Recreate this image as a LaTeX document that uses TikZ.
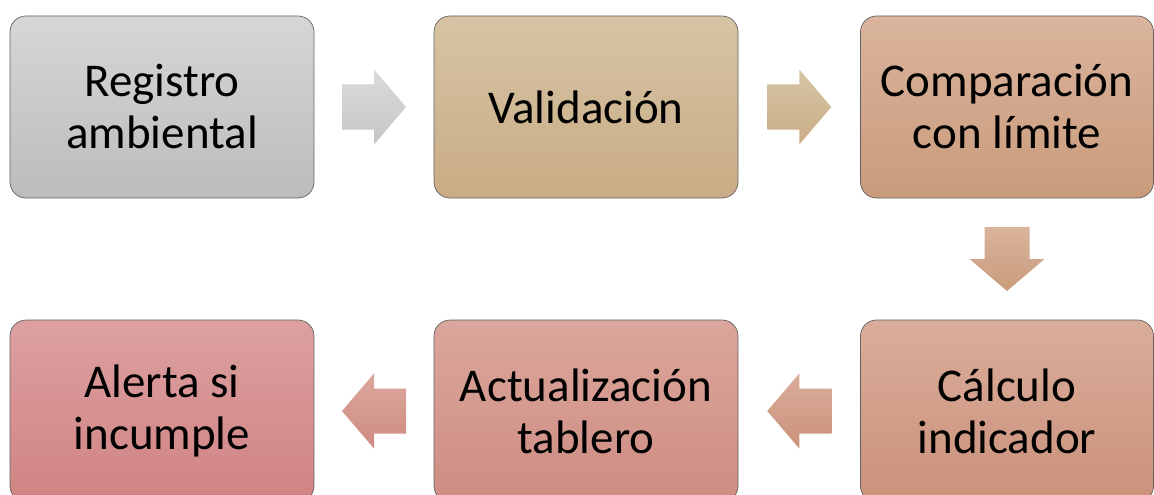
\documentclass[tikz,border=0pt]{standalone}
\usepackage{fontspec}
\setmainfont{Carlito}
\usetikzlibrary{calc}

\definecolor{grayTop}{HTML}{D6D6D6}
\definecolor{grayBot}{HTML}{BCBCBC}
\definecolor{tanTop}{HTML}{D6C4A4}
\definecolor{tanBot}{HTML}{C9AC85}
\definecolor{cmpTop}{HTML}{DAB49D}
\definecolor{cmpBot}{HTML}{C99B7B}
\definecolor{calTop}{HTML}{D9AD9B}
\definecolor{calBot}{HTML}{CB917A}
\definecolor{actTop}{HTML}{DBA69C}
\definecolor{actBot}{HTML}{CE8C82}
\definecolor{alrTop}{HTML}{DDA0A0}
\definecolor{alrBot}{HTML}{D08383}

\begin{document}
\begin{tikzpicture}[x=1pt,y=-1pt,
    flow_box/.style={rectangle,rounded corners=16pt,draw=black!62,line width=0.7pt,minimum width=304pt,minimum height=182pt,inner sep=0pt,align=center,font=\fontsize{47}{52}\selectfont},
    arrow_right/.pic={\path[pic actions] (-32,-22.5) -- (0,-22.5) -- (0,-37.5) -- (32,0) -- (0,37.5) -- (0,22.5) -- (-32,22.5) -- cycle;},
    arrow_down/.pic={\path[pic actions] (-22.5,-32) -- (-22.5,0) -- (-37.5,0) -- (0,32) -- (37.5,0) -- (22.5,0) -- (22.5,-32) -- cycle;}]

    \useasboundingbox[fill=white] (0,0) rectangle (1154,495);

    % upper row
    \node[flow_box,top color=grayTop,bottom color=grayBot] (reg) at (162,107) {Registro\\ambiental};
    \node[flow_box,top color=tanTop,bottom color=tanBot] (val) at (586,107) {Validación};
    \node[flow_box,minimum width=293pt,top color=cmpTop,bottom color=cmpBot] (cmp) at (1007,107) {Comparación\\con límite};
    % lower row
    \node[flow_box,minimum width=293pt,top color=calTop,bottom color=calBot] (cal) at (1007,411) {Cálculo\\indicador};
    \node[flow_box,top color=actTop,bottom color=actBot] (act) at (586,411) {Actualización\\tablero};
    \node[flow_box,top color=alrTop,bottom color=alrBot] (alr) at (162,411) {Alerta si\\incumple};

    \pic[top color=grayTop!90!white,bottom color=grayBot!85!white] at ($(reg.east)!0.5!(val.west)$) {arrow_right};
    \pic[top color=tanTop,bottom color=tanBot] at ($(val.east)!0.5!(cmp.west)$) {arrow_right};
    \pic[top color=cmpTop,bottom color=cmpBot] at ($(cmp.south)!0.5!(cal.north)$) {arrow_down};
    \pic[xscale=-1,top color=calTop,bottom color=calBot] at ($(cal.west)!0.5!(act.east)$) {arrow_right};
    \pic[xscale=-1,top color=actTop,bottom color=actBot] at ($(act.west)!0.5!(alr.east)$) {arrow_right};
\end{tikzpicture}
\end{document}
